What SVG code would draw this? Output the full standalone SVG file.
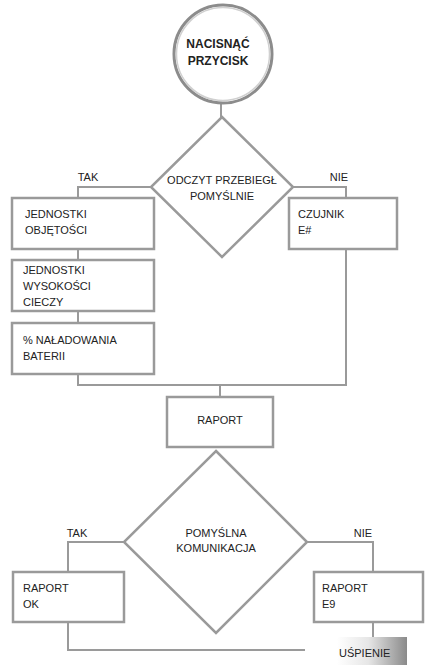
<svg xmlns="http://www.w3.org/2000/svg" width="426" height="665" viewBox="0 0 426 665">
<defs>
<style>
.box{fill:#fff;stroke:#9a9a9a;stroke-width:2.5}
.dia{fill:#fff;stroke:#9a9a9a;stroke-width:2.5}
.ln{fill:none;stroke:#9a9a9a;stroke-width:2}
text{font-family:"Liberation Sans",Arial,sans-serif;font-size:11px;fill:#222}
.c{text-anchor:middle}
.b{font-weight:bold;font-size:12px}
</style>
<linearGradient id="g" x1="0" y1="0" x2="1" y2="0">
<stop offset="0" stop-color="#fff"/>
<stop offset="0.45" stop-color="#e6e6e6"/>
<stop offset="1" stop-color="#8a8a8a"/>
</linearGradient>
</defs>
<rect width="426" height="665" fill="#fff"/>
<g id="connectors">
<line class="ln" x1="221" y1="104" x2="221" y2="118"/>
<polyline class="ln" points="151,187 78,187 78,198"/>
<polyline class="ln" points="293,187 346,187 346,198"/>
<line class="ln" x1="78" y1="249" x2="78" y2="260"/>
<line class="ln" x1="78" y1="311" x2="78" y2="323"/>
<polyline class="ln" points="78,374 78,385 346,385 346,249"/>
<line class="ln" x1="220" y1="385" x2="220" y2="397"/>
<polyline class="ln" points="124,542 68,542 68,572"/>
<polyline class="ln" points="307,542 373,542 373,572"/>
<line class="ln" x1="373" y1="622" x2="373" y2="637"/>
<polyline class="ln" points="68,622 68,650 305,650"/>
</g>
<g id="start">
<circle cx="223" cy="54" r="49" fill="#fff" stroke="#8c8c8c" stroke-width="3"/>
<circle cx="223" cy="54" r="46.5" fill="none" stroke="#d0d0d0" stroke-width="1.5"/>
<text class="c b" x="218" y="48">NACISNĄĆ</text>
<text class="c b" x="218" y="65">PRZYCISK</text>
</g>
<g id="decision1">
<polygon class="dia" points="222,117 293,187 222,257 151,187"/>
<text class="c" x="222" y="184">ODCZYT PRZEBIEGŁ</text>
<text class="c" x="222" y="200">POMYŚLNIE</text>
</g>
<text class="c" x="88" y="181">TAK</text>
<text class="c" x="339" y="181">NIE</text>
<g id="jednostki-objetosci">
<rect class="box" x="12" y="198" width="142" height="51"/>
<text x="25" y="218">JEDNOSTKI</text>
<text x="25" y="234">OBJĘTOŚCI</text>
</g>
<g id="czujnik">
<rect class="box" x="289" y="198" width="108" height="51"/>
<text x="298" y="218">CZUJNIK</text>
<text x="298" y="234">E#</text>
</g>
<g id="jednostki-wysokosci">
<rect class="box" x="12" y="260" width="142" height="51"/>
<text x="23" y="274">JEDNOSTKI</text>
<text x="23" y="290">WYSOKOŚCI</text>
<text x="23" y="306">CIECZY</text>
</g>
<g id="naladowanie">
<rect class="box" x="12" y="323" width="142" height="51"/>
<text x="23" y="344">% NAŁADOWANIA</text>
<text x="23" y="360">BATERII</text>
</g>
<g id="raport">
<rect class="box" x="167" y="397" width="106" height="50"/>
<text class="c" x="220" y="424">RAPORT</text>
</g>
<g id="decision2">
<polygon class="dia" points="216,451 307,542 216,633 124,542"/>
<text class="c" x="216" y="537">POMYŚLNA</text>
<text class="c" x="216" y="552">KOMUNIKACJA</text>
</g>
<text class="c" x="77" y="537">TAK</text>
<text class="c" x="363" y="537">NIE</text>
<g id="raport-ok">
<rect class="box" x="13" y="572" width="111" height="50"/>
<text x="23" y="592">RAPORT</text>
<text x="23" y="608">OK</text>
</g>
<g id="raport-e9">
<rect class="box" x="314" y="572" width="109" height="50"/>
<text x="322" y="592">RAPORT</text>
<text x="322" y="608">E9</text>
</g>
<g id="uspienie">
<rect x="337" y="637" width="70" height="28" fill="url(#g)"/>
<text x="339" y="657">UŚPIENIE</text>
</g>
</svg>
